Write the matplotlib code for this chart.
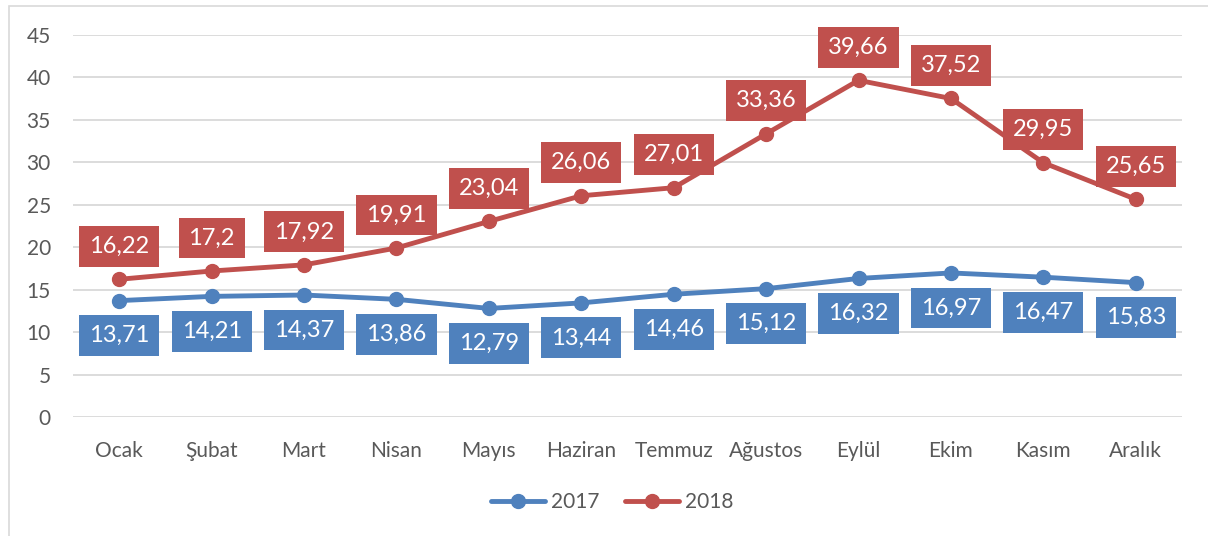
"""
Monthly values 2017 vs 2018, Excel-style line chart with boxed data labels
"""

import matplotlib.pyplot as plt
from matplotlib.patches import Rectangle

# ---------------------------------------------------------------------------- #
# Data
# ---------------------------------------------------------------------------- #
months = ['Ocak', 'Şubat', 'Mart', 'Nisan', 'Mayıs', 'Haziran', 'Temmuz',
          'Ağustos', 'Eylül', 'Ekim', 'Kasım', 'Aralık']
values_2017 = [13.71, 14.21, 14.37, 13.86, 12.79, 13.44, 14.46, 15.12,
               16.32, 16.97, 16.47, 15.83]
values_2018 = [16.22, 17.2, 17.92, 19.91, 23.04, 26.06, 27.01, 33.36,
               39.66, 37.52, 29.95, 25.65]
labels_2017 = ['13,71', '14,21', '14,37', '13,86', '12,79', '13,44', '14,46',
               '15,12', '16,32', '16,97', '16,47', '15,83']
labels_2018 = ['16,22', '17,2', '17,92', '19,91', '23,04', '26,06', '27,01',
               '33,36', '39,66', '37,52', '29,95', '25,65']
yticks = [0, 5, 10, 15, 20, 25, 30, 35, 40, 45]

# ---------------------------------------------------------------------------- #
# Style
# ---------------------------------------------------------------------------- #
blue = '#4F81BD'
red = '#C0504D'
text_grey = '#595959'
grid_grey = '#D9D9D9'

plt.rcParams['font.family'] = ['Lato', 'DejaVu Sans']

fig = plt.figure(figsize=(12.08, 5.36), dpi=100)
ax = fig.add_axes([73 / 1208, 1 - 417 / 536, (1182 - 73) / 1208, (417 - 35) / 536])

# outer chart border
fig.patches.append(Rectangle((9 / 1208, -0.01), 1.0, 1 - 6 / 536 + 0.01,
                             transform=fig.transFigure, fill=False,
                             edgecolor=grid_grey, linewidth=1.2))

x = list(range(len(months)))
ax.plot(x, values_2017, color=blue, linewidth=3.5, marker='o', markersize=10,
        label='2017', solid_capstyle='round', zorder=3)
ax.plot(x, values_2018, color=red, linewidth=3.5, marker='o', markersize=10,
        label='2018', solid_capstyle='round', zorder=3)

# ---------------------------------------------------------------------------- #
# Data labels
# ---------------------------------------------------------------------------- #
for xi, v, lab in zip(x, values_2017, labels_2017):
    ax.annotate(lab, (xi, v), xytext=(0, -35), textcoords='offset pixels',
                ha='center', va='center', color='white', fontsize=17,
                bbox=dict(boxstyle='square,pad=0.42', facecolor=blue,
                          edgecolor='none'), zorder=4)
for xi, v, lab in zip(x, values_2018, labels_2018):
    ax.annotate(lab, (xi, v), xytext=(0, 33), textcoords='offset pixels',
                ha='center', va='center', color='white', fontsize=17,
                bbox=dict(boxstyle='square,pad=0.42', facecolor=red,
                          edgecolor='none'), zorder=4)

# ---------------------------------------------------------------------------- #
# Axes
# ---------------------------------------------------------------------------- #
ax.set_xlim(-0.5, len(months) - 0.5)
ax.set_ylim(0, 45)
ax.set_yticks(yticks)
ax.set_xticks(x)
ax.set_xticklabels(months)
ax.tick_params(axis='both', length=0, labelsize=15, colors=text_grey)
ax.tick_params(axis='y', pad=16)
ax.tick_params(axis='x', pad=17)
ax.grid(axis='y', color=grid_grey, linewidth=1.3)
ax.set_axisbelow(True)
for spine in ax.spines.values():
    spine.set_visible(False)

leg = fig.legend(loc='center', bbox_to_anchor=(612 / 1208, 1 - 502 / 536),
                 ncol=2, frameon=False, fontsize=15, handlelength=2.6,
                 columnspacing=1.2, handletextpad=0.3)
for t in leg.get_texts():
    t.set_color(text_grey)

fig.savefig('out.png', dpi=100)
plt.close()
